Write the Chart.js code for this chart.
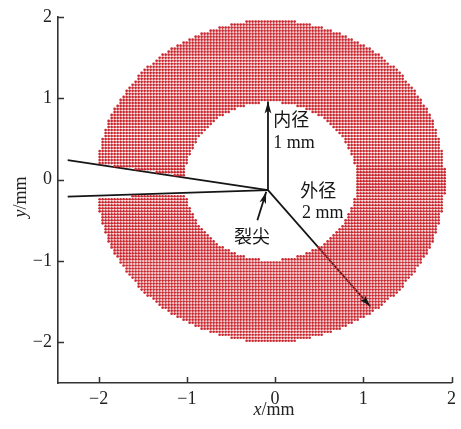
<!DOCTYPE html>
<html>
<head>
<meta charset="utf-8">
<script src="https://cdn.jsdelivr.net/npm/chart.js@4.4.0/dist/chart.umd.min.js"></script>
<style>
  html, body { margin: 0; padding: 0; background: #fff; }
  #box { width: 461px; height: 429px; }
</style>
</head>
<body>
<div id="box"><canvas id="ringChart"></canvas></div>
<script>
// axes
const xTicks = [-2, -1, 0, 1, 2];
const yTicks = [-2, -1, 0, 1, 2];
const xRange = [-2.46, 2];
const yRange = [-2.5, 2];

// mesh of the ring (mm)
const ringCenter = [-0.05, -0.02];
const ringRadii = [0.97, 1.98];
const gridStep = [0.034, 0.037];

// crack and arrows (mm)
const crackTip = [-0.08, -0.13];
const crackUpperStart = [-2.35, 0.24];
const crackLowerStart = [-2.35, -0.21];
const innerArrowEnd = [-0.08, 0.96];
const outerArrowEnd = [1.08, -1.56];
const tipArrowStart = [-0.2, -0.5];
const tipArrowEnd = [-0.1, -0.15];

// labels (mm)
const labelTexts = ['内径', '1 mm', '外径', '2 mm', '裂尖'];
const labelX = [-0.02, -0.02, 0.49, 0.54, -0.26];
const labelY = [0.74, 0.44, -0.13, -0.42, -0.69];
const labelAlign = ['left', 'left', 'center', 'center', 'center'];

function lineYAt(p0, p1, x) {
    return p0[1] + (p1[1] - p0[1]) * (x - p0[0]) / (p1[0] - p0[0]);
}

// build mesh points inside the ring, skipping the crack wedge
const meshPoints = [];
const nx = Math.ceil(ringRadii[1] / gridStep[0]);
const ny = Math.ceil(ringRadii[1] / gridStep[1]);
for (let i = -nx; i <= nx; i++) {
    for (let j = -ny; j <= ny; j++) {
        const x = ringCenter[0] + i * gridStep[0];
        const y = ringCenter[1] + j * gridStep[1];
        const r = Math.hypot(x - ringCenter[0], y - ringCenter[1]);
        if (r < ringRadii[0] || r > ringRadii[1]) continue;
        if (x < crackTip[0]) {
            const yu = lineYAt(crackUpperStart, crackTip, x);
            const yl = lineYAt(crackLowerStart, crackTip, x);
            if (y < yu + 0.01 && y > yl - 0.02) continue;
        }
        meshPoints.push({ x: x, y: y });
    }
}

const toPts = arr => arr.map(p => ({ x: p[0], y: p[1] }));
const lineStyle = {
    type: 'line',
    showLine: true,
    borderColor: '#151515',
    borderWidth: 1.8,
    pointRadius: 0,
    fill: false
};

const arrowSegments = [
    [crackTip, innerArrowEnd],
    [crackTip, outerArrowEnd],
    [tipArrowStart, tipArrowEnd]
];

// arrows heads, labels, inward ticks, axis titles
const decorPlugin = {
    id: 'decor',
    afterDatasetsDraw(chart) {
        const ctx = chart.ctx;
        const xs = chart.scales.x, ys = chart.scales.y;
        const area = chart.chartArea;
        ctx.save();
        // arrow heads
        ctx.fillStyle = '#151515';
        arrowSegments.forEach(seg => {
            const x0 = xs.getPixelForValue(seg[0][0]), y0 = ys.getPixelForValue(seg[0][1]);
            const x1 = xs.getPixelForValue(seg[1][0]), y1 = ys.getPixelForValue(seg[1][1]);
            const a = Math.atan2(y1 - y0, x1 - x0);
            const len = 12, w = 3.4;
            ctx.beginPath();
            ctx.moveTo(x1, y1);
            ctx.lineTo(x1 - len * Math.cos(a) + w * Math.sin(a), y1 - len * Math.sin(a) - w * Math.cos(a));
            ctx.lineTo(x1 - len * 0.75 * Math.cos(a), y1 - len * 0.75 * Math.sin(a));
            ctx.lineTo(x1 - len * Math.cos(a) - w * Math.sin(a), y1 - len * Math.sin(a) + w * Math.cos(a));
            ctx.closePath();
            ctx.fill();
        });
        // text labels
        ctx.fillStyle = '#151515';
        ctx.textBaseline = 'middle';
        labelTexts.forEach((t, k) => {
            const cjk = /[\u4e00-\u9fff]/.test(t);
            ctx.font = cjk ? '18px "Noto Sans CJK SC"' : '18px "Liberation Serif"';
            ctx.textAlign = labelAlign[k];
            ctx.fillText(t, xs.getPixelForValue(labelX[k]), ys.getPixelForValue(labelY[k]));
        });
        // inward ticks
        ctx.strokeStyle = '#333';
        ctx.lineWidth = 1.5;
        ctx.beginPath();
        xTicks.forEach(v => {
            const px = Math.round(xs.getPixelForValue(v)) + 0.5;
            ctx.moveTo(px, area.bottom);
            ctx.lineTo(px, area.bottom - 6);
        });
        yTicks.forEach(v => {
            const py = Math.round(ys.getPixelForValue(v)) + 0.5;
            ctx.moveTo(area.left, py);
            ctx.lineTo(area.left + 6, py);
        });
        ctx.stroke();
        // axis titles
        ctx.fillStyle = '#222';
        ctx.textBaseline = 'alphabetic';
        ctx.textAlign = 'left';
        const drawTitle = (it, rest, cx, cy, rot) => {
            ctx.save();
            ctx.translate(cx, cy);
            ctx.rotate(rot);
            ctx.font = 'italic 18px "Liberation Serif"';
            const w1 = ctx.measureText(it).width;
            ctx.font = '18px "Liberation Serif"';
            const w2 = ctx.measureText(rest).width;
            const start = -(w1 + w2) / 2;
            ctx.font = 'italic 18px "Liberation Serif"';
            ctx.fillText(it, start, 6);
            ctx.font = '18px "Liberation Serif"';
            ctx.fillText(rest, start + w1, 6);
            ctx.restore();
        };
        drawTitle('x', '/mm', 274, 409, 0);
        drawTitle('y', '/mm', 20, 197, -Math.PI / 2);
        ctx.restore();
    }
};

const ctx = document.getElementById('ringChart').getContext('2d');
new Chart(ctx, {
    type: 'scatter',
    data: {
        datasets: [
            {
                label: 'mesh',
                data: meshPoints,
                pointRadius: 1.35,
                pointBorderWidth: 0,
                pointBackgroundColor: '#c92a32',
                pointHoverRadius: 0
            },
            Object.assign({ label: 'crack upper', data: toPts([crackUpperStart, crackTip]) }, lineStyle),
            Object.assign({ label: 'crack lower', data: toPts([crackLowerStart, crackTip]) }, lineStyle),
            Object.assign({ label: 'inner', data: toPts([crackTip, innerArrowEnd]) }, lineStyle),
            Object.assign({ label: 'outer', data: toPts([crackTip, outerArrowEnd]) }, lineStyle),
            Object.assign({ label: 'tip', data: toPts([tipArrowStart, tipArrowEnd]) }, lineStyle)
        ]
    },
    options: {
        responsive: true,
        maintainAspectRatio: false,
        animation: false,
        events: [],
        layout: { padding: { top: 16, right: 7, left: 0, bottom: 0 } },
        plugins: {
            legend: { display: false },
            tooltip: { enabled: false }
        },
        scales: {
            x: {
                type: 'linear',
                min: xRange[0],
                max: xRange[1],
                afterBuildTicks: s => { s.ticks = xTicks.map(v => ({ value: v })); },
                afterFit: s => { s.height = 46; },
                grid: { display: false, drawTicks: false },
                border: { display: true, color: '#333', width: 1.6 },
                ticks: {
                    padding: 5,
                    color: '#222',
                    font: { family: 'Liberation Serif', size: 18 },
                    callback: v => (v < 0 ? '\u2212' + Math.abs(v) : String(v))
                }
            },
            y: {
                type: 'linear',
                min: yRange[0],
                max: yRange[1],
                afterBuildTicks: s => { s.ticks = yTicks.map(v => ({ value: v })); },
                afterFit: s => { s.width = 58; },
                grid: { display: false, drawTicks: false },
                border: { display: true, color: '#333', width: 1.6 },
                ticks: {
                    padding: 6,
                    color: '#222',
                    font: { family: 'Liberation Serif', size: 18 },
                    callback: v => (v < 0 ? '\u2212' + Math.abs(v) : String(v))
                }
            }
        }
    },
    plugins: [decorPlugin]
});
</script>
</body>
</html>
